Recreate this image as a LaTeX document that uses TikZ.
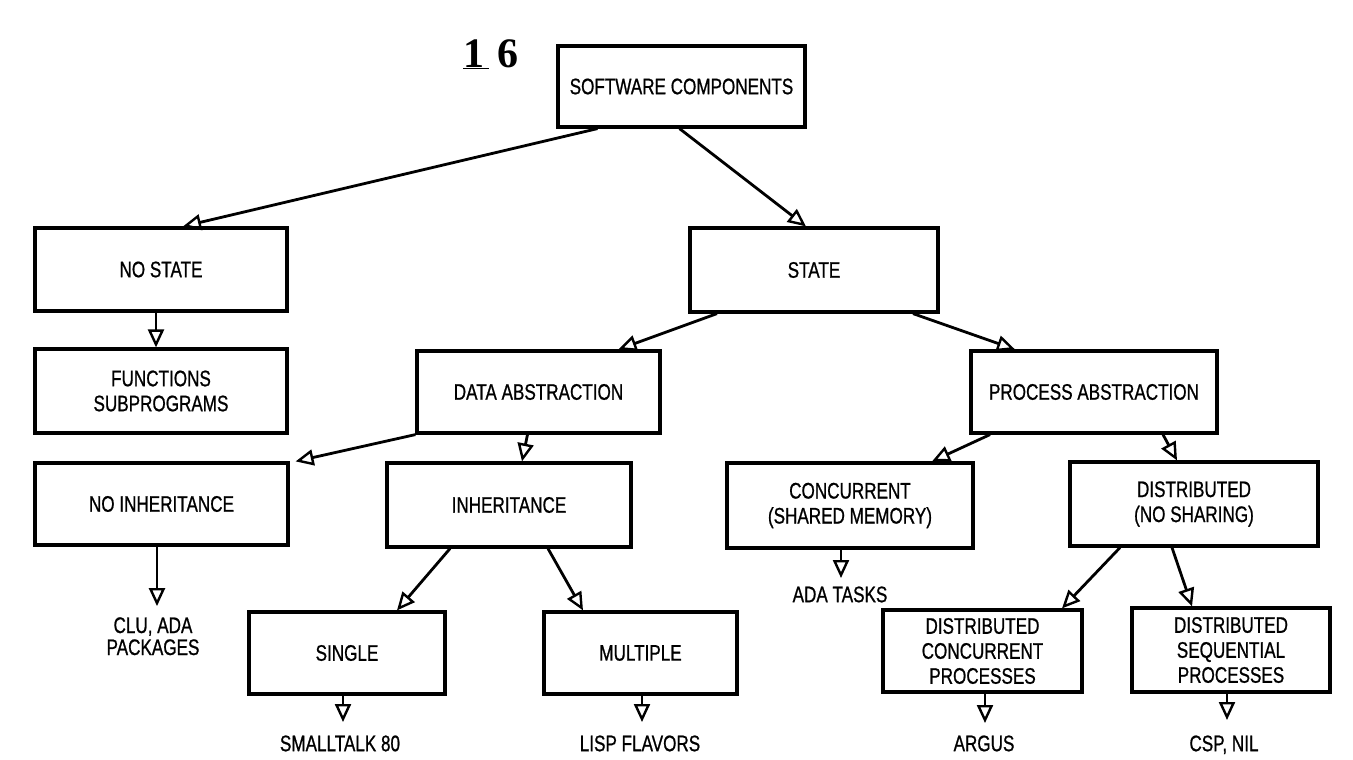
\documentclass[tikz,border=0pt]{standalone}
\usepackage{fontspec}
\setmainfont{Liberation Sans}[FakeStretch=0.76, FakeBold=0.8]
\newfontfamily\numfont{Liberation Serif}
\usetikzlibrary{arrows.meta}
\newcommand\boxtext{\fontsize{22.5}{25}\selectfont}

\begin{document}
\begin{tikzpicture}[x=1pt,y=-1pt,
  box/.style={draw, line width=3.2pt, inner sep=0pt, align=center, font=\boxtext},
  lbl/.style={inner sep=0pt, align=center, font=\boxtext, text height=16pt, anchor=north},
  lblmulti/.style={inner sep=0pt, align=center, font=\boxtext, anchor=base},
  arr/.style={draw, line width=2.8pt,
    -{Triangle[open, length=18pt, width=16pt, line width=2.4pt]}},
]
\useasboundingbox (0,0) rectangle (1353,760);

% figure number
\node[font=\numfont\bfseries\fontsize{42}{42}\selectfont, inner sep=0pt, anchor=base west]
  (fignum) at (463,67) {\underline{1\kern5pt}\kern8pt 6};

% boxes
\node[box, minimum width=247pt, minimum height=81pt] (sc) at (681.5,86.5) {SOFTWARE COMPONENTS};
\node[box, minimum width=252pt, minimum height=83pt] (nostate) at (161,269.5) {NO STATE};
\node[box, minimum width=248pt, minimum height=84pt] (state) at (814,270) {STATE};
\node[box, minimum width=252pt, minimum height=84pt] (func) at (161,391) {FUNCTIONS\\SUBPROGRAMS};
\node[box, minimum width=243pt, minimum height=82pt] (data) at (538.5,392) {DATA ABSTRACTION};
\node[box, minimum width=246pt, minimum height=82pt] (proc) at (1094,392) {PROCESS ABSTRACTION};
\node[box, minimum width=253pt, minimum height=82pt] (noinh) at (161.5,504) {NO INHERITANCE};
\node[box, minimum width=244pt, minimum height=84pt] (inh) at (509,505) {INHERITANCE};
\node[box, minimum width=246pt, minimum height=85pt] (conc) at (850,505.5) {CONCURRENT\\(SHARED MEMORY)};
\node[box, minimum width=248pt, minimum height=84pt] (dist) at (1194,504) {DISTRIBUTED\\(NO SHARING)};
\node[box, minimum width=196pt, minimum height=82pt] (single) at (347,653) {SINGLE};
\node[box, minimum width=193pt, minimum height=82pt] (multiple) at (640.5,653) {MULTIPLE};
\node[box, minimum width=199pt, minimum height=82pt] (dcp) at (982.5,651) {DISTRIBUTED\\CONCURRENT\\PROCESSES};
\node[box, minimum width=198pt, minimum height=84pt] (dsp) at (1231,650) {DISTRIBUTED\\SEQUENTIAL\\PROCESSES};

% example labels
\node[lblmulti] (clu) at (153,655) {CLU, ADA\\[-3pt]PACKAGES};
\node[lbl] (smalltalk) at (340,735) {SMALLTALK 80};
\node[lbl] (lisp) at (640,735) {LISP FLAVORS};
\node[lbl] (adatasks) at (840,586) {ADA TASKS};
\node[lbl] (argus) at (984,735) {ARGUS};
\node[lbl] (csp) at (1224,735) {CSP, NIL};

% tree connectors
\draw[arr] ([xshift=-84pt]sc.south) -- ([xshift=22pt]nostate.north);
\draw[arr] ([xshift=-2pt]sc.south) -- ([xshift=-8pt]state.north);
\draw[arr] ([xshift=-5pt]nostate.south) -- ([xshift=-5pt]func.north);
\draw[arr] ([xshift=-97pt]state.south) -- ([xshift=80pt]data.north);
\draw[arr] ([xshift=99pt]state.south) -- ([xshift=-79pt]proc.north);
\draw[arr] (data.south west) -- ([xshift=6pt]noinh.north east);
\draw[arr] ([xshift=-11pt]data.south) -- ([xshift=13pt]inh.north);
\draw[arr] ([xshift=-104pt]proc.south) -- ([xshift=82pt]conc.north);
\draw[arr] ([xshift=69pt]proc.south) -- ([xshift=-17pt]dist.north);
\draw[arr] ([xshift=-59pt]inh.south) -- ([xshift=50pt]single.north);
\draw[arr] ([xshift=39pt]inh.south) -- ([xshift=-57.5pt]multiple.north);
\draw[arr] ([xshift=-74pt]dist.south) -- ([xshift=79.5pt]dcp.north);
\draw[arr] ([xshift=-22pt]dist.south) -- ([xshift=-39pt]dsp.north);

% connectors down to the examples
\coordinate (s1) at ([xshift=-4.5pt]noinh.south);
\coordinate (s2) at ([xshift=-4pt]single.south);
\coordinate (s3) at ([xshift=1.5pt]multiple.south);
\coordinate (s4) at ([xshift=-9pt]conc.south);
\coordinate (s5) at ([xshift=2.5pt]dcp.south);
\coordinate (s6) at ([xshift=-4pt]dsp.south);
\draw[arr, shorten >=11pt] (s1) -- (s1 |- clu.north);
\draw[arr, shorten >=13pt] (s2) -- (s2 |- smalltalk.north);
\draw[arr, shorten >=13pt] (s3) -- (s3 |- lisp.north);
\draw[arr, shorten >=8pt] (s4) -- (s4 |- adatasks.north);
\draw[arr, shorten >=12pt] (s5) -- (s5 |- argus.north);
\draw[arr, shorten >=15pt] (s6) -- (s6 |- csp.north);
\end{tikzpicture}
\end{document}
